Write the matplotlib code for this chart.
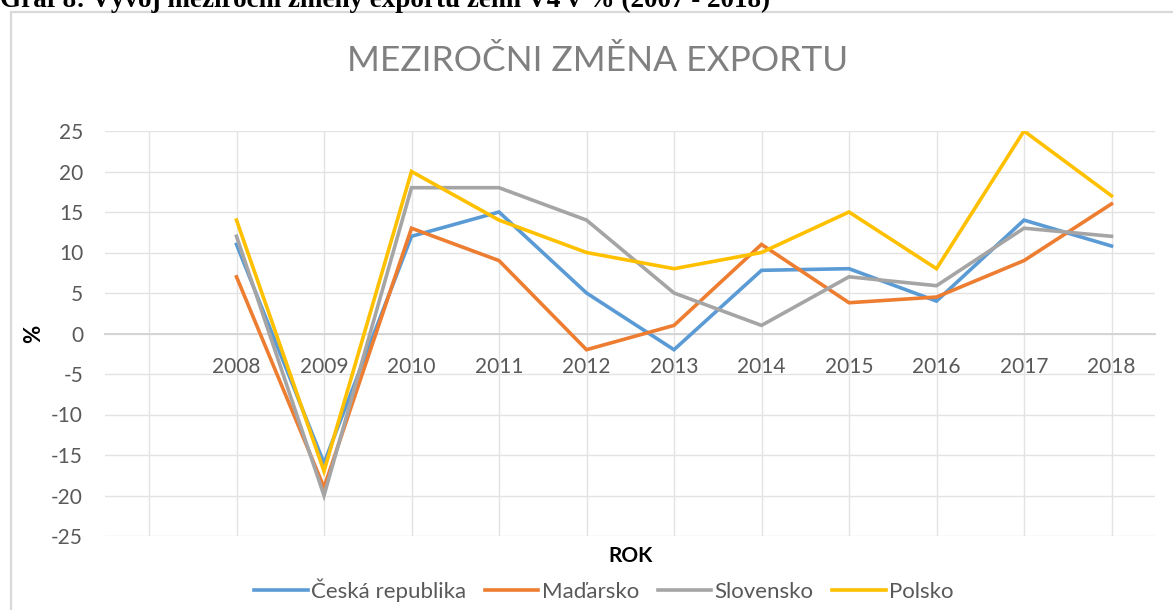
import numpy as np
import matplotlib
matplotlib.use("Agg")
import matplotlib.pyplot as plt
from matplotlib.patches import Rectangle

# ---- data ----
years = ["", "2008", "2009", "2010", "2011", "2012", "2013", "2014", "2015", "2016", "2017", "2018"]
cesko = [np.nan, 11, -16, 12, 15, 5, -2, 7.8, 8, 4, 14, 10.8]
madarsko = [np.nan, 7, -19, 13, 9, -2, 1, 11, 3.8, 4.5, 9, 16]
slovensko = [np.nan, 12, -20, 18, 18, 14, 5, 1, 7, 5.9, 13, 12]
polsko = [np.nan, 14, -17, 20, 14, 10, 8, 10, 15, 8, 25, 17]
series_names = ["Česká republika", "Maďarsko", "Slovensko", "Polsko"]
series_colors = ["#5B9BD5", "#ED7D31", "#A5A5A5", "#FFC000"]
yticks = [-25, -20, -15, -10, -5, 0, 5, 10, 15, 20, 25]

W, H = 1173, 610
fig = plt.figure(figsize=(W / 100, H / 100), dpi=100)
FONT = ["Lato", "DejaVu Sans"]

# outer chart border
fig.patches.append(Rectangle((11 / W, -0.1), 1.2, 1 - 12 / H + 0.1, transform=fig.transFigure,
                             fill=False, edgecolor="#d9d9d9", linewidth=1.6, zorder=0))

# caption (cut off at top, as in the source)
fig.text(0 / W, 1 - 7 / H, "Graf 8: Vývoj meziroční změny exportu zemí V4 v % (2007 - 2018)",
         family=["Liberation Serif", "DejaVu Serif"], weight="bold", fontsize=19.5,
         ha="left", va="baseline", color="black")

left, right, top, bottom = 105.25, 1155.25, 131, 536
ax = fig.add_axes([left / W, 1 - bottom / H, (right - left) / W, (bottom - top) / H])

x = np.arange(len(years))
for vals, name, col in zip([cesko, madarsko, slovensko, polsko], series_names, series_colors):
    ax.plot(x, vals, color=col, linewidth=2.6, label=name, solid_joinstyle="miter", zorder=3)

ax.set_xlim(-0.5, len(years) - 0.5)
ax.set_ylim(-25, 25)
ax.set_yticks(yticks)
ax.set_yticklabels([str(v) for v in yticks])
ax.set_xticks(x)
ax.set_xticklabels(years)

ax.grid(True, color="#e3e3e3", linewidth=1.0, zorder=0)
ax.set_axisbelow(True)
for s in ["top", "right", "left"]:
    ax.spines[s].set_visible(False)
ax.spines["bottom"].set_position(("data", 0))
ax.spines["bottom"].set_color("#d4d4d4")
ax.spines["bottom"].set_linewidth(1.4)

ax.tick_params(axis="x", length=0, pad=17, labelsize=15, labelcolor="#595959")
ax.tick_params(axis="y", length=0, pad=16, labelsize=15, labelcolor="#595959")
for lab in ax.get_xticklabels() + ax.get_yticklabels():
    lab.set_family(FONT)

# title
fig.text(598 / W, 1 - 61 / H, "MEZIROČNI ZMĚNA EXPORTU", family=FONT, weight="normal",
         fontsize=25.5, color="#808080", ha="center", va="center")
# axis titles
fig.text(34 / W, 1 - 334 / H, "%", family=FONT, weight="bold", fontsize=16,
         rotation=90, ha="center", va="center", color="black")
fig.text(631 / W, 1 - 556 / H, "ROK", family=FONT, weight="bold", fontsize=15,
         ha="center", va="center", color="black")

leg = fig.legend(loc="center", bbox_to_anchor=(604 / W, 1 - 590 / H), ncol=4, frameon=False,
                 prop={"family": FONT, "size": 16}, handlelength=2.4, handletextpad=0.15,
                 columnspacing=0.85, labelcolor="#595959")

fig.savefig("out.png", dpi=100)
